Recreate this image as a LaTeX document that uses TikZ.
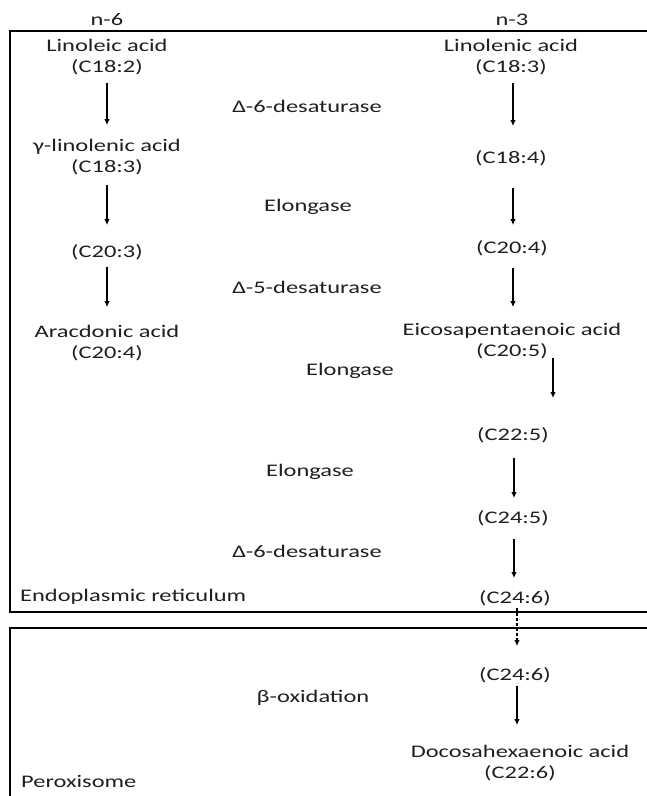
\documentclass[tikz,border=0pt]{standalone}
\usepackage{fontspec}
\setmainfont{Carlito}[FakeStretch=1.38]
\usetikzlibrary{arrows.meta, calc}

\begin{document}
\begin{tikzpicture}[
        x=1pt, y=-1pt,
        every node/.style={inner sep=0pt, anchor=north, align=center, text=black!88,
            font=\fontsize{17.7}{21.6}\selectfont},
        arrow/.style={-{Latex[length=6pt, width=5.5pt]}, line width=1.2pt},
        membrane/.style={line width=1.2pt}
    ]
    \useasboundingbox (0,0) rectangle (647,796);
    \clip (0,0) rectangle (647,796);

    % Compartments
    \draw[membrane] (10,31) rectangle (670,612);
    \draw[membrane] (10,628) rectangle (670,830);

    % Series headers
    \node (n6) at (107,10) {\strut n-6};
    \node (n3) at (512,10) {\strut n-3};

    % n-6 pathway
    \node (la)   at (107,36)  {\strut Linoleic acid\\\strut(C18:2)};
    \node (gla)  at (107,136) {\strut γ-linolenic acid\\\strut(C18:3)};
    \node (c203) at (107,242) {\strut(C20:3)};
    \node (aa)   at (107,322) {\strut Aracdonic acid\\\strut(C20:4)};

    % n-3 pathway
    \node (lna)  at (511,36)  {\strut Linolenic acid\\\strut(C18:3)};
    \node (c184) at (511,148) {\strut(C18:4)};
    \node (c204) at (512,238) {\strut(C20:4)};
    \node (epa)  at (512,320) {\strut Eicosapentaenoic acid\\\strut(C20:5)};
    \node (c225) at (513,425) {\strut(C22:5)};
    \node (c245) at (513,508) {\strut(C24:5)};
    \node (c246) at (515,588) {\strut(C24:6)};
    \node (c246p) at (515,665) {\strut(C24:6)};
    \node (dha)  at (520,742) {\strut Docosahexaenoic acid\\\strut(C22:6)};

    % Enzymes
    \node (d6a)  at (307,97)  {\strut Δ-6-desaturase};
    \node (eloa) at (308,196) {\strut Elongase};
    \node (d5)   at (307,278) {\strut Δ-5-desaturase};
    \node (elob) at (350,360) {\strut Elongase};
    \node (eloc) at (310,461) {\strut Elongase};
    \node (d6b)  at (307,542) {\strut Δ-6-desaturase};
    \node (box)  at (313,687) {\strut β-oxidation};

    % Compartment labels
    \node[anchor=north west] (er)  at (20,586) {\strut Endoplasmic reticulum};
    \node[anchor=north west] (per) at (21,775) {Peroxisome};

    % Arrows n-6
    \draw[arrow, shorten <=3.5pt, shorten >=10.9pt] (la.south) -- (la.south |- gla.north);
    \draw[arrow, shorten <=5.5pt, shorten >=16.9pt] (gla.south) -- (gla.south |- c203.north);
    \draw[arrow, shorten <=2.5pt, shorten >=14.9pt] (c203.south) -- (c203.south |- aa.north);

    % Arrows n-3
    \draw[arrow, shorten <=3.5pt, shorten >=21.9pt] ([xshift=2pt]lna.south) -- ([xshift=2pt]lna.south |- c184.north);
    \draw[arrow, shorten <=17.5pt, shorten >=12.9pt] ([xshift=2pt]c184.south) -- ([xshift=2pt]c184.south |- c204.north);
    \draw[arrow, shorten <=7.5pt, shorten >=12.9pt] ([xshift=1pt]c204.south) -- ([xshift=1pt]c204.south |- epa.north);
    \draw[arrow] ($(epa.south)+(41,-5.5)$) -- ($(c225.north)+(40,-27)$);
    \draw[arrow, shorten <=10.5pt, shorten >=9.9pt] ([xshift=1pt]c225.south) -- ([xshift=1pt]c225.south |- c245.north);
    \draw[arrow, shorten <=8.5pt, shorten >=9.9pt] ([xshift=1pt]c245.south) -- ([xshift=1pt]c245.south |- c246.north);
    \draw[arrow, dash pattern=on 3pt off 2pt, shorten <=-2.5pt, shorten >=18.9pt] ([xshift=2pt]c246.south) -- ([xshift=2pt]c246.south |- c246p.north);
    \draw[arrow, shorten <=-1.5pt, shorten >=16.9pt] ([xshift=2pt]c246p.south) -- ([xshift=2pt]c246p.south |- dha.north);

\end{tikzpicture}
\end{document}
